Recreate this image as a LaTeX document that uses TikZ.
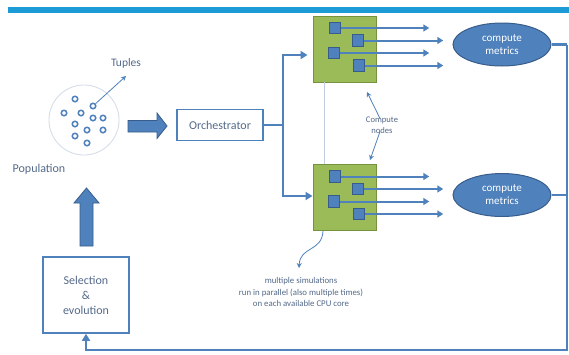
\documentclass[tikz,border=0pt]{standalone}
\usepackage{fontspec}
\setmainfont{Carlito}
\usetikzlibrary{arrows.meta}
\definecolor{topbar}{RGB}{27,154,214}
\definecolor{lblue}{RGB}{79,129,189}
\definecolor{dblue}{RGB}{56,93,138}
\definecolor{gfill}{RGB}{155,187,89}
\definecolor{gdraw}{RGB}{118,146,60}
\definecolor{tblue}{RGB}{84,106,138}
\definecolor{pale}{RGB}{190,204,222}
\tikzset{
  txt/.style={text=tblue, inner sep=0pt},
  box/.style={draw=lblue, line width=1.6pt, fill=white, text=tblue, font=\fontsize{12}{15}\selectfont, align=center},
  gbox/.style={draw=gdraw, line width=1pt, fill=gfill, minimum width=63pt, minimum height=66pt, inner sep=0pt},
  sq/.style={draw=dblue, line width=1pt, fill=lblue, minimum size=11.5pt, inner sep=0pt},
  dot/.style={circle, draw=lblue, line width=1.5pt, fill=white, minimum size=5.5pt, inner sep=0pt},
  ell/.style={ellipse, draw=dblue, line width=1pt, fill=lblue, text=white, minimum width=98pt, minimum height=43pt, inner sep=0pt, align=center, font=\fontsize{11}{13}\selectfont},
  conn/.style={draw=lblue, line width=2.4pt},
  connarr/.style={conn, -{Triangle[length=7pt,width=8pt]}},
  small/.style={draw=lblue, line width=2pt, -{Triangle[length=6pt,width=7pt]}},
  thin/.style={draw=lblue, line width=0.8pt, -{Stealth[length=5pt,width=5pt]}},
  bigarrow/.style={fill=lblue, draw=dblue, line width=0.8pt},
}
\usetikzlibrary{shapes.geometric}
\begin{document}
\begin{tikzpicture}[x=1pt,y=-1pt]
\useasboundingbox (0,0) rectangle (569,354);
\fill[white] (0,0) rectangle (569,354);
% top bar
\fill[topbar] (8,7) rectangle (569,12.5);

% population
\node[circle, draw=pale!70, line width=0.8pt, minimum size=70pt, inner sep=0pt] (pop) at (84,120) {};
\node[dot] (d1) at (75,99) {};
\node[dot] (d2) at (93,106) {};
\node[dot] (d3) at (64,113) {};
\node[dot] (d4) at (81,113) {};
\node[dot] (d5) at (93,118) {};
\node[dot] (d6) at (103,118) {};
\node[dot] (d7) at (75,124) {};
\node[dot] (d8) at (87,130) {};
\node[dot] (d9) at (103,130) {};
\node[dot] (d10) at (75,136) {};
\node[dot] (d11) at (87,143) {};
\node[txt, font=\fontsize{11.5}{13}\selectfont] (tup) at (126,63) {Tuples};
\coordinate (tupend) at (126,76);
\draw[thin] (d2) -- (tupend);
\node[txt, font=\fontsize{12}{14}\selectfont] (poplab) at (39,169) {Population};

% orchestrator
\node[box, minimum width=86pt, minimum height=31pt, inner sep=0pt] (orch) at (220,125) {Orchestrator};

% big right arrow
\draw[bigarrow] (128,120.5) -- (157,120.5) -- (157,113) -- (167,126) -- (157,138.5) -- (157,132) -- (128,132) -- cycle;

% selection box
\node[box, minimum width=86pt, minimum height=76pt, inner sep=0pt] (sel) at (86,295) {Selection\\\&\\evolution};

% big up arrow
\draw[bigarrow] (80,246) -- (80,203) -- (74,203) -- (86.5,188) -- (99,203) -- (93,203) -- (93,246) -- cycle;

% green boxes
\node[gbox] (g1) at (344.5,49) {};
\node[gbox] (g2) at (344.5,197.5) {};

% thin link between boxes
\draw[pale, line width=0.8pt] (324,82) -- (324,164);

% squares
\foreach \g in {g1,g2}{
  \node[sq] (\g a) at ([xshift=-9.5pt,yshift=-12.5pt]\g.north) {};
  \node[sq] (\g b) at ([xshift=13.5pt,yshift=-25pt]\g.north) {};
  \node[sq] (\g c) at ([xshift=-10.5pt,yshift=-37.5pt]\g.north) {};
  \node[sq] (\g d) at ([xshift=14.5pt,yshift=-50pt]\g.north) {};
}
\foreach \g in {g1,g2}{
  \coordinate (\g ta) at ([xshift=88pt]\g a.east);
  \coordinate (\g tb) at ([xshift=79pt]\g b.east);
  \coordinate (\g tc) at ([xshift=89pt]\g c.east);
  \coordinate (\g td) at ([xshift=78pt]\g d.east);
  \draw[small] (\g a.east) -- (\g ta);
  \draw[small] (\g b.east) -- (\g tb);
  \draw[small] (\g c.east) -- (\g tc);
  \draw[small] (\g d.east) -- (\g td);
}

% ellipses
\node[ell] (e1) at (502,44.5) {compute\\metrics};
\node[ell] (e2) at (502,195) {compute\\metrics};

% orchestrator to compute nodes
\coordinate (ja) at (283,55);
\coordinate (jb) at (283,196);
\coordinate (jm) at (283,125);
\draw[conn] (orch.east) -- (jm);
\draw[connarr, shorten >=5pt] (jm) -- (ja) -- (g1.west |- ja);
\draw[connarr] (jm) -- (jb) -- (g2.west |- jb);

% feedback loop
\coordinate (jr) at (567,350);
\draw[conn] (e1.east) -- (e1.east -| jr);
\draw[conn] (e2.east) -- (e2.east -| jr);
\draw[connarr] (e1.east -| jr) -- (jr) -| (sel.south);

% compute nodes label
\node[txt, font=\fontsize{8.6}{11}\selectfont, align=center] (cn) at (382,125) {Compute\\nodes};
\coordinate (cnup) at (367,92);
\coordinate (cndn) at (370,160);
\draw[thin] ([xshift=-2pt,yshift=-2pt]cn.north) -- (cnup);
\draw[thin] ([xshift=-2pt,yshift=2pt]cn.south) -- (cndn);

% simulations label
\node[txt, font=\fontsize{8.8}{11.6}\selectfont, align=center] (sim) at (301,292) {multiple simulations\\run in parallel (also multiple times)\\on each available CPU core};
\coordinate (simtip) at (299,268);
\draw[thin] ([xshift=-21.5pt]g2.south) .. controls (322,252) and (300,246) .. (simtip);
\end{tikzpicture}
\end{document}
